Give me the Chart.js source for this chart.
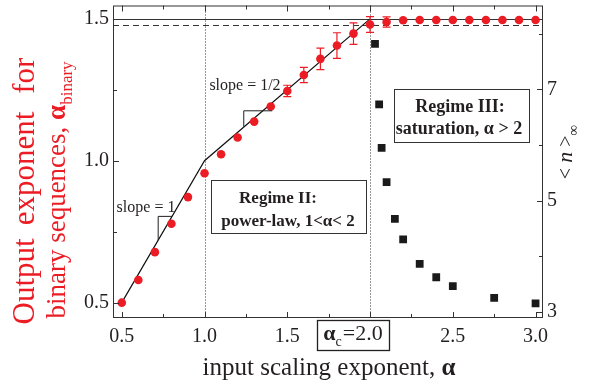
<!DOCTYPE html>
<html>
<head>
<meta charset="utf-8">
<script src="https://cdn.jsdelivr.net/npm/chart.js@4.4.0/dist/chart.umd.min.js"></script>
<style>
  html, body { margin: 0; padding: 0; background: #fff; }
  canvas { display: block; }
</style>
</head>
<body>
<canvas id="myChart" width="593" height="388"></canvas>
<script>
// red circles: output exponent for binary sequences (left axis)
const inputAlpha = [0.5, 0.6, 0.7, 0.8, 0.9, 1.0, 1.1, 1.2, 1.3, 1.4, 1.5, 1.6, 1.7,
    1.8, 1.9, 2.0, 2.1, 2.2, 2.3, 2.4, 2.5, 2.6, 2.7, 2.8, 2.9, 3.0]
const binaryAlpha = [0.500, 0.580, 0.678, 0.778, 0.872, 0.956, 1.023, 1.082, 1.138, 1.191,
    1.246, 1.302, 1.359, 1.406, 1.448, 1.480, 1.489, 1.495, 1.496, 1.496, 1.496, 1.496,
    1.496, 1.496, 1.496, 1.496]
const binaryAlphaErr = [0, 0, 0, 0, 0, 0, 0, 0, 0, 0,
    0.020, 0.027, 0.038, 0.045, 0.038, 0.028, 0.018, 0, 0, 0, 0, 0, 0, 0, 0, 0]

// black squares: <n>_inf (right axis)
const nAlpha = [2.03, 2.055, 2.07, 2.10, 2.15, 2.20, 2.30, 2.40, 2.50, 2.75, 3.00]
const nInfinity = [7.82, 6.73, 5.95, 5.33, 4.67, 4.30, 3.86, 3.62, 3.46, 3.25, 3.15]

// piecewise theory line
const theoryAlpha = [0.5, 1.0, 2.0]
const theoryBinary = [0.5, 1.0, 1.5]

const saturationLevel = 1.5
const dashedLevel = 1.478
const regimeBounds = [1.0, 2.0]

// axis ticks
const xTicks = [0.5, 1.0, 1.5, 2.0, 2.5, 3.0]
const xMinorTicks = [0.75, 1.25, 1.75, 2.25, 2.75]
const yTicks = [0.5, 1.0, 1.5]
const yMinorTicks = [0.75, 1.25]
const y2Ticks = [3, 5, 7]
const y2MinorTicks = [4, 6, 8]

const SERIF = '"Liberation Serif", "Times New Roman", serif'
const RED = '#ec1c24'
const INK = '#231f20'

function font(size, weight, style) {
    return (style || '') + ' ' + (weight || '') + ' ' + size + 'px ' + SERIF
}

// draw a run of text pieces with their own fonts / offsets
function drawRich(ctx, parts, x, y, align, color) {
    let total = 0
    parts.forEach(p => {
        ctx.font = p.font
        p.w = ctx.measureText(p.text).width
        total += p.w + (p.gap || 0)
    })
    let cx = align === 'center' ? x - total / 2 : x
    ctx.textAlign = 'left'
    ctx.textBaseline = 'alphabetic'
    parts.forEach(p => {
        cx += (p.gap || 0)
        ctx.font = p.font
        ctx.fillStyle = p.color || color || INK
        ctx.fillText(p.text, cx, y + (p.dy || 0))
        cx += p.w
    })
}

function textBox(ctx, left, top, width, height, lines) {
    ctx.fillStyle = '#fff'
    ctx.fillRect(left, top, width, height)
    ctx.strokeStyle = '#333'
    ctx.lineWidth = 1
    ctx.strokeRect(left + 0.5, top + 0.5, width, height)
    lines.forEach(l => drawRich(ctx, l.parts, l.x, l.y, 'center'))
}

// no extra padding around the scales, the plot box is fixed
function fixBox(size, prop) {
    return s => {
        s[prop] = size
        s.paddingTop = 0
        s.paddingBottom = 0
        s.paddingLeft = 0
        s.paddingRight = 0
    }
}

const decorations = {
    id: 'decorations',
    beforeDatasetsDraw(chart) {
        const { ctx, chartArea: a, scales } = chart
        ctx.save()
        ctx.strokeStyle = '#333'
        ctx.lineWidth = 1
        // saturation lines
        let ys = Math.round(scales.y.getPixelForValue(saturationLevel)) + 0.5
        ctx.beginPath(); ctx.moveTo(a.left, ys); ctx.lineTo(a.right, ys); ctx.stroke()
        let yd = Math.round(scales.y.getPixelForValue(dashedLevel)) + 0.5
        ctx.setLineDash([6, 4])
        ctx.beginPath(); ctx.moveTo(a.left, yd); ctx.lineTo(a.right, yd); ctx.stroke()
        // regime boundaries
        ctx.setLineDash([1, 2])
        regimeBounds.forEach(v => {
            let px = Math.round(scales.x.getPixelForValue(v)) + 0.5
            ctx.beginPath(); ctx.moveTo(px, a.top); ctx.lineTo(px, a.bottom); ctx.stroke()
        })
        ctx.restore()
    },
    afterDatasetsDraw(chart) {
        const { ctx, chartArea: a, scales } = chart
        const x = scales.x, y = scales.y, y2 = scales.y2
        ctx.save()

        // error bars
        ctx.strokeStyle = RED
        ctx.lineWidth = 1.2
        inputAlpha.forEach((v, i) => {
            const e = binaryAlphaErr[i]
            if (!e) return
            const px = x.getPixelForValue(v)
            const top = y.getPixelForValue(binaryAlpha[i] + e)
            const bot = y.getPixelForValue(binaryAlpha[i] - e)
            ctx.beginPath()
            ctx.moveTo(px, top); ctx.lineTo(px, bot)
            ctx.moveTo(px - 4, top); ctx.lineTo(px + 4, top)
            ctx.moveTo(px - 4, bot); ctx.lineTo(px + 4, bot)
            ctx.stroke()
        })

        // slope triangles
        ctx.strokeStyle = INK
        ctx.lineWidth = 1
        ctx.beginPath()
        ctx.moveTo(x.getPixelForValue(0.72), y.getPixelForValue(0.72))
        ctx.lineTo(x.getPixelForValue(0.72), y.getPixelForValue(0.804))
        ctx.lineTo(x.getPixelForValue(0.803), y.getPixelForValue(0.804))
        ctx.moveTo(x.getPixelForValue(1.237), y.getPixelForValue(1.12))
        ctx.lineTo(x.getPixelForValue(1.237), y.getPixelForValue(1.176))
        ctx.lineTo(x.getPixelForValue(1.409), y.getPixelForValue(1.176))
        ctx.stroke()
        drawRich(ctx, [{ text: 'slope = 1', font: font(16) }], 146, 212, 'center')
        drawRich(ctx, [{ text: 'slope = 1/2', font: font(16) }], 245, 90, 'center')

        // regime boxes
        textBox(ctx, 211, 180, 155, 53, [
            { x: 278, y: 203, parts: [{ text: 'Regime II:', font: font(17, 'bold') }] },
            { x: 288, y: 226, parts: [{ text: 'power-law, 1<\u03b1< 2', font: font(17, 'bold') }] }
        ])
        textBox(ctx, 394, 89, 135, 53, [
            { x: 460, y: 112, parts: [{ text: 'Regime III:', font: font(18, 'bold') }] },
            { x: 459, y: 134, parts: [{ text: 'saturation, \u03b1 > 2', font: font(18, 'bold') }] }
        ])

        // frame
        ctx.strokeStyle = '#333'
        ctx.lineWidth = 1
        ctx.strokeRect(a.left + 0.5, a.top + 0.5, a.right - a.left - 1, a.bottom - a.top - 1)

        // tick marks, all inside
        ctx.beginPath()
        const xTick = (v, len) => {
            const px = Math.round(x.getPixelForValue(v)) + 0.5
            ctx.moveTo(px, a.bottom); ctx.lineTo(px, a.bottom - len)
            ctx.moveTo(px, a.top); ctx.lineTo(px, a.top + len)
        }
        xTicks.forEach(v => xTick(v, 6))
        xMinorTicks.forEach(v => xTick(v, 4))
        const yTick = (v, len) => {
            const py = Math.round(y.getPixelForValue(v)) + 0.5
            ctx.moveTo(a.left, py); ctx.lineTo(a.left + len, py)
        }
        yTicks.forEach(v => yTick(v, 6))
        yMinorTicks.forEach(v => yTick(v, 4))
        const y2Tick = (v, len) => {
            const py = Math.round(y2.getPixelForValue(v)) + 0.5
            ctx.moveTo(a.right, py); ctx.lineTo(a.right - len, py)
        }
        y2Ticks.forEach(v => y2Tick(v, 6))
        y2MinorTicks.forEach(v => y2Tick(v, 4))
        ctx.stroke()

        // alpha_c box on the x axis
        ctx.fillStyle = '#fff'
        ctx.fillRect(317, 320, 73, 30)
        ctx.strokeStyle = INK
        ctx.lineWidth = 1.3
        ctx.strokeRect(317.5, 320.5, 72, 30)
        drawRich(ctx, [
            { text: '\u03b1', font: font(22, 'bold') },
            { text: 'c', font: font(14), dy: 6 },
            { text: '=2.0', font: font(22), gap: 1 }
        ], 353, 340, 'center')

        // axis titles
        drawRich(ctx, [
            { text: 'input scaling exponent, ', font: font(25) },
            { text: '\u03b1', font: font(25, 'bold') }
        ], 329, 375, 'center')

        ctx.save()
        ctx.translate(34, 191)
        ctx.rotate(-Math.PI / 2)
        drawRich(ctx, [
            { text: 'Output', font: font(31) },
            { text: 'exponent', font: font(31), gap: 13 },
            { text: 'for', font: font(31), gap: 18 }
        ], 0, 0, 'center', RED)
        ctx.restore()
        ctx.save()
        ctx.translate(65, 190)
        ctx.rotate(-Math.PI / 2)
        drawRich(ctx, [
            { text: 'binary sequences, ', font: font(27) },
            { text: '\u03b1', font: font(27, 'bold') },
            { text: 'binary', font: font(17), dy: 7 }
        ], 0, 0, 'center', RED)
        ctx.restore()

        ctx.save()
        ctx.translate(572, 152)
        ctx.rotate(-Math.PI / 2)
        drawRich(ctx, [
            { text: '< ', font: font(20) },
            { text: 'n', font: font(22, '', 'italic') },
            { text: ' >', font: font(20) },
            { text: '\u221e', font: font(15), dy: 6 }
        ], 0, 0, 'center')
        ctx.restore()

        ctx.restore()
    }
}

const tickFont = { family: SERIF, size: 20 }

const ctx = document.getElementById('myChart')
const myChart = new Chart(ctx, {
    data: {
        datasets: [{
            type: 'scatter',
            label: 'alpha binary',
            data: inputAlpha.map((v, i) => ({ x: v, y: binaryAlpha[i] })),
            yAxisID: 'y',
            pointStyle: 'circle',
            pointRadius: 4.3,
            pointBackgroundColor: RED,
            pointBorderWidth: 0,
            order: 0
        }, {
            type: 'scatter',
            label: 'n inf',
            data: nAlpha.map((v, i) => ({ x: v, y: nInfinity[i] })),
            yAxisID: 'y2',
            pointStyle: 'rect',
            pointRadius: 5.5,
            pointBackgroundColor: '#1a1a1a',
            pointBorderWidth: 0,
            order: 1
        }, {
            type: 'line',
            label: 'theory',
            data: theoryAlpha.map((v, i) => ({ x: v, y: theoryBinary[i] })),
            yAxisID: 'y',
            borderColor: '#111',
            borderWidth: 1.2,
            pointRadius: 0,
            fill: false,
            tension: 0,
            order: 2
        }]
    },
    options: {
        responsive: false,
        animation: false,
        events: [],
        layout: { padding: { top: 4, left: 0, right: 0, bottom: 0 } },
        plugins: {
            legend: { display: false },
            tooltip: { enabled: false }
        },
        scales: {
            x: {
                type: 'linear',
                min: 0.447,
                max: 3.045,
                grid: { display: false, drawTicks: false },
                border: { display: false },
                afterBuildTicks: s => { s.ticks = xTicks.map(v => ({ value: v })) },
                afterFit: fixBox(70, 'height'),
                ticks: {
                    font: tickFont,
                    color: INK,
                    padding: 7,
                    maxRotation: 0,
                    autoSkip: false,
                    callback: v => v === 2 ? '' : v.toFixed(1)
                }
            },
            y: {
                type: 'linear',
                position: 'left',
                min: 0.446,
                max: 1.547,
                grid: { display: false, drawTicks: false },
                border: { display: false },
                afterBuildTicks: s => { s.ticks = yTicks.map(v => ({ value: v })) },
                afterFit: fixBox(113, 'width'),
                ticks: {
                    font: tickFont,
                    color: INK,
                    padding: 4,
                    callback: v => v.toFixed(1)
                }
            },
            y2: {
                type: 'linear',
                position: 'right',
                min: 2.887,
                max: 8.51,
                grid: { display: false, drawTicks: false },
                border: { display: false },
                afterBuildTicks: s => { s.ticks = y2Ticks.map(v => ({ value: v })) },
                afterFit: fixBox(50, 'width'),
                ticks: {
                    font: tickFont,
                    color: INK,
                    padding: 4,
                    callback: v => String(v)
                }
            }
        }
    },
    plugins: [decorations]
})
</script>
</body>
</html>
